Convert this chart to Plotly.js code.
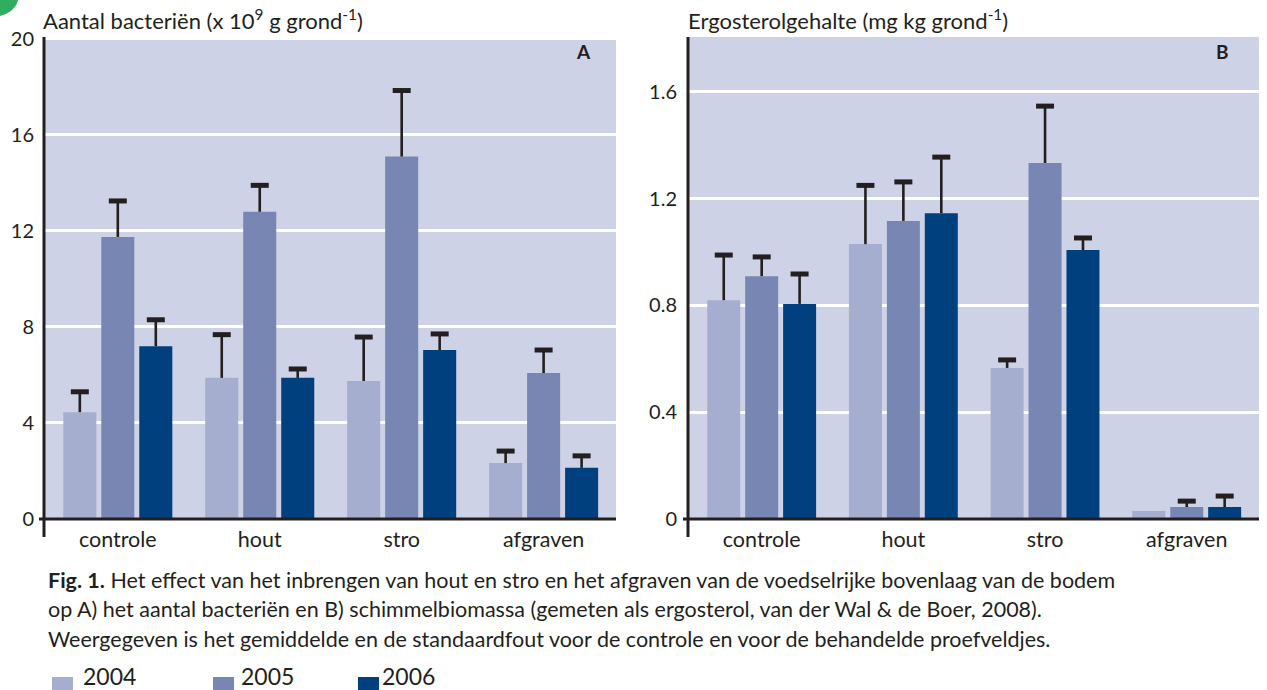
<!DOCTYPE html>
<html>
<head>
<meta charset="utf-8">
<script src="https://cdn.plot.ly/plotly-3.0.1.min.js"></script>
<style>html,body{margin:0;padding:0;background:#fff;}#chart{width:1267px;height:690px;}</style>
</head>
<body>
<div id="chart"></div>
<script>
// ---------- data ----------
const categories = ['controle', 'hout', 'stro', 'afgraven'];
const years = ['2004', '2005', '2006'];

// Panel A: Aantal bacteriën (x 10^9 g grond^-1)
const bact2004 = [4.45, 5.88, 5.75, 2.33];
const bact2004Err = [0.85, 1.8, 1.83, 0.5];
const bact2005 = [11.75, 12.8, 15.1, 6.08];
const bact2005Err = [1.5, 1.1, 2.75, 0.96];
const bact2006 = [7.2, 5.88, 7.04, 2.13];
const bact2006Err = [1.1, 0.37, 0.67, 0.5];

// Panel B: Ergosterolgehalte (mg kg grond^-1)
const ergo2004 = [0.82, 1.03, 0.566, 0.03];
const ergo2004Err = [0.169, 0.22, 0.03, 0];
const ergo2005 = [0.91, 1.117, 1.334, 0.045];
const ergo2005Err = [0.072, 0.146, 0.213, 0.022];
const ergo2006 = [0.806, 1.146, 1.008, 0.045];
const ergo2006Err = [0.112, 0.21, 0.045, 0.041];

const bactTicks = [0, 4, 8, 12, 16, 20];
const ergoTicks = [0, 0.4, 0.8, 1.2, 1.6];
const ergoTickText = ['0', '0.4', '0.8', '1.2', '1.6'];

// ---------- style ----------
const colors = ['#a5aecf', '#7886b4', '#00407f'];
const ink = '#231f20';
const FONT = 'Lato, "Open Sans", sans-serif';

const ML = 44, MT = 37, MR = 8, MB = 171, FW = 1267, FH = 690;
const PW = FW - ML - MR, PH = FH - MT - MB;
const px = x => (x - ML) / PW;
const py = y => (FH - MB - y) / PH;

const yRangeA = [0, 20.08];
const yRangeB = [0, 1.806];
const xRange = [-0.52, 3.51];
const capPx = 5;
const capWpx = 18;

const panels = [
  {xa: 'x', ya: 'y', range: yRangeA, vals: [bact2004, bact2005, bact2006], errs: [bact2004Err, bact2005Err, bact2006Err], domW: (616 - 44)},
  {xa: 'x2', ya: 'y2', range: yRangeB, vals: [ergo2004, ergo2005, ergo2006], errs: [ergo2004Err, ergo2005Err, ergo2006Err], domW: (1259 - 688)}
];

const traces = [];
panels.forEach((p, pi) => {
  const capH = capPx * (p.range[1] - p.range[0]) / PH;
  const capW = capWpx * (xRange[1] - xRange[0]) / p.domW;
  years.forEach((yr, i) => {
    traces.push({
      type: 'bar', x: categories, y: p.vals[i], name: yr,
      xaxis: p.xa, yaxis: p.ya, offsetgroup: 'g' + i,
      marker: {color: colors[i], line: {width: 0}},
      showlegend: false, hoverinfo: 'x+y',
      error_y: {type: 'data', symmetric: false, array: p.errs[i],
        arrayminus: p.errs[i].map(() => 0), thickness: 2.6, width: 0, color: ink}
    });
  });
  years.forEach((yr, i) => {
    traces.push({
      type: 'bar', x: categories,
      base: p.vals[i].map((v, k) => v + p.errs[i][k] - capH / 2),
      y: p.errs[i].map(e => e > 0 ? capH : null),
      width: capW,
      xaxis: p.xa, yaxis: p.ya, offsetgroup: 'g' + i,
      marker: {color: ink, line: {width: 0}},
      showlegend: false, hoverinfo: 'skip'
    });
  });
});

const axisFont = {family: FONT, size: 20, color: ink};
const xFont = {family: FONT, size: 21.5, color: ink};
const layout = {
  width: FW, height: FH,
  margin: {l: ML, r: MR, t: MT, b: MB, pad: 0},
  paper_bgcolor: '#ffffff', plot_bgcolor: '#cdd2e6',
  barmode: 'group', bargap: 0.197, bargroupgap: 0.13,
  showlegend: false,
  font: {family: FONT, color: ink},
  xaxis: {domain: [0, px(616)], range: xRange, type: 'category', showgrid: false, zeroline: false,
    showline: false, ticks: '', tickfont: xFont, ticklabelstandoff: 5, fixedrange: true},
  yaxis: {range: yRangeA, tickvals: bactTicks, ticktext: bactTicks.map(String), showgrid: true,
    gridcolor: '#ffffff', gridwidth: 3, zeroline: false, showline: false, ticks: '',
    tickfont: axisFont, ticklabelstandoff: 9, fixedrange: true},
  xaxis2: {domain: [px(688), 1], range: xRange, type: 'category', anchor: 'y2', showgrid: false,
    zeroline: false, showline: false, ticks: '', tickfont: xFont, ticklabelstandoff: 5, fixedrange: true},
  yaxis2: {range: yRangeB, anchor: 'x2', tickvals: ergoTicks, ticktext: ergoTickText, showgrid: true,
    gridcolor: '#ffffff', gridwidth: 3, zeroline: false, showline: false, ticks: '',
    tickfont: axisFont, ticklabelstandoff: 10, fixedrange: true},
  shapes: [], annotations: []
};

// axis lines (y-axis extending below zero, x-axis with small tick to the left)
[[44, 616], [688, 1259]].forEach(([x0, x1]) => {
  layout.shapes.push({type: 'line', xref: 'paper', yref: 'paper', x0: px(x0), x1: px(x0),
    y0: py(537), y1: py(MT), line: {color: ink, width: 3}});
  layout.shapes.push({type: 'line', xref: 'paper', yref: 'paper', x0: px(x0 - 5), x1: px(x1),
    y0: py(519), y1: py(519), line: {color: ink, width: 3}});
});

// decorative green corner
layout.shapes.push({type: 'path', xref: 'paper', yref: 'paper', layer: 'above',
  path: `M${px(0)},${py(0)} L${px(18)},${py(0)} Q${px(16)},${py(11)} ${px(0)},${py(16)} Z`,
  fillcolor: '#2fae62', line: {width: 0}});

// panel titles
layout.annotations.push({xref: 'paper', yref: 'paper', x: px(41), y: py(20), xanchor: 'left', yanchor: 'middle',
  text: 'Aantal bacteriën (x 10<sup>9</sup> g grond<sup>-1</sup>)', showarrow: false,
  font: {family: FONT, size: 22, color: ink}});
layout.annotations.push({xref: 'paper', yref: 'paper', x: px(686), y: py(20), xanchor: 'left', yanchor: 'middle',
  text: 'Ergosterolgehalte (mg kg grond<sup>-1</sup>)', showarrow: false,
  font: {family: FONT, size: 22, color: ink}});
// panel letters
layout.annotations.push({xref: 'paper', yref: 'paper', x: px(583), y: py(51), xanchor: 'center', yanchor: 'middle',
  text: '<b>A</b>', showarrow: false, font: {family: FONT, size: 19, color: ink}});
layout.annotations.push({xref: 'paper', yref: 'paper', x: px(1222), y: py(51), xanchor: 'center', yanchor: 'middle',
  text: '<b>B</b>', showarrow: false, font: {family: FONT, size: 19, color: ink}});

// caption
const caption = [
  '<b>Fig. 1.</b> Het effect van het inbrengen van hout en stro en het afgraven van de voedselrijke bovenlaag van de bodem',
  'op A) het aantal bacteriën en B) schimmelbiomassa (gemeten als ergosterol, van der Wal &amp; de Boer, 2008).',
  'Weergegeven is het gemiddelde en de standaardfout voor de controle en voor de behandelde proefveldjes.'
];
const capY = [580, 609, 639];
caption.forEach((t, i) => layout.annotations.push({xref: 'paper', yref: 'paper', x: px(46), y: py(capY[i]),
  xanchor: 'left', yanchor: 'middle', text: t, showarrow: false, font: {family: FONT, size: 21.5, color: ink}}));

// legend (custom squares + labels)
const legSqX = [52, 213, 358];
const legTxtX = [81, 239, 380];
years.forEach((yr, i) => {
  layout.shapes.push({type: 'rect', xref: 'paper', yref: 'paper', x0: px(legSqX[i]), x1: px(legSqX[i] + 21),
    y0: py(698), y1: py(677), fillcolor: colors[i], line: {width: 0}});
  layout.annotations.push({xref: 'paper', yref: 'paper', x: px(legTxtX[i]), y: py(676), xanchor: 'left', yanchor: 'middle',
    text: yr, showarrow: false, font: {family: FONT, size: 23, color: ink}});
});

Plotly.newPlot('chart', traces, layout, {displayModeBar: false, staticPlot: true});
</script>
</body>
</html>
